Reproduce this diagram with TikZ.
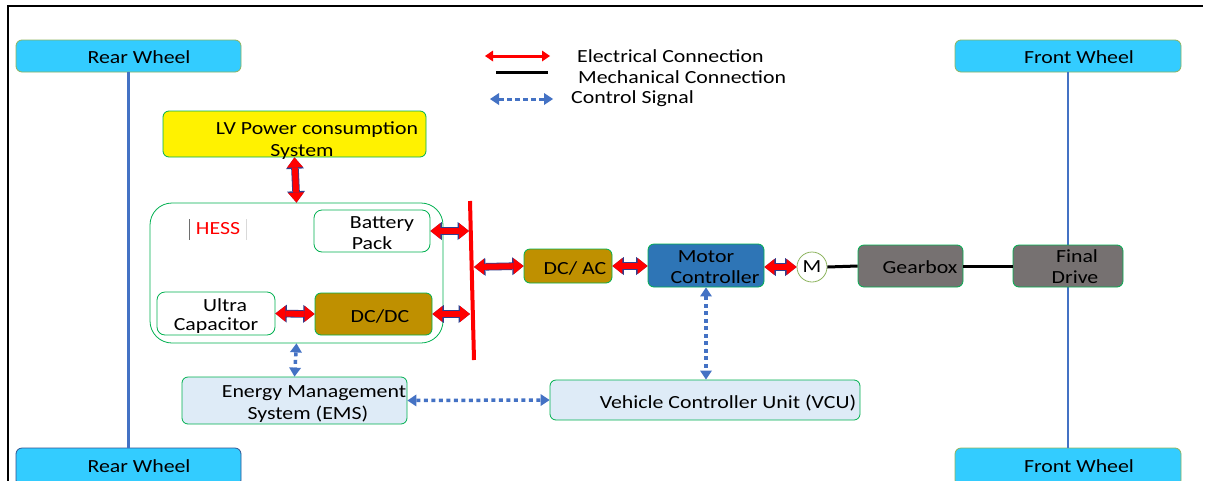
\documentclass[tikz,border=0pt]{standalone}
\usepackage{fontspec}
\setmainfont{Carlito}[FakeStretch=1.18]
\usetikzlibrary{arrows.meta}
\definecolor{cyanw}{RGB}{51,204,255}
\definecolor{wolive}{RGB}{141,180,95}
\definecolor{wnavy}{RGB}{47,82,143}
\definecolor{gborder}{RGB}{0,176,80}
\definecolor{goldbox}{RGB}{191,144,0}
\definecolor{mcblue}{RGB}{46,117,182}
\definecolor{graybox}{RGB}{118,113,113}
\definecolor{lightbox}{RGB}{222,235,247}
\definecolor{ctrlblue}{RGB}{68,114,196}
\definecolor{navyline}{RGB}{47,63,143}
\definecolor{hessgray}{RGB}{110,110,110}
\newcommand\tstr[1]{\rule{0pt}{#1}}
\newcommand\bstr{\rule[-6pt]{0pt}{6pt}}
\tikzset{
  elt/.tip={Triangle[length=10pt,width=16pt,line width=0pt]},
  eltout/.tip={Triangle[length=11.4pt,width=18pt,line width=0pt]},
  ctt/.tip={Triangle[length=9pt,width=12pt,line width=0pt]},
  tb/.style={execute at begin node={\rule{0pt}{#1}}, execute at end node={\rule[-6pt]{0pt}{6pt}}},
  tb/.default=22pt,
  box/.style={draw=gborder, line width=0.8pt, rounded corners=6pt, align=center, inner sep=0pt},
  txt/.style={align=center, inner sep=0pt},
  wheel/.style={box, fill=cyanw},
  axle/.style={draw=ctrlblue, line width=2.5pt},
  elec/.style={draw=red, line width=6pt, {elt}-{elt},
    preaction={draw=navyline, line width=7.6pt, {eltout}-{eltout}}},
  legel/.style={draw=red, line width=3pt, {Triangle[length=8pt,width=11pt,line width=0pt]}-{Triangle[length=8pt,width=11pt,line width=0pt]}},
  mech/.style={draw=black, line width=3pt},
  ctrl/.style={draw=ctrlblue, line width=3.5pt, dash pattern=on 4pt off 3.5pt, {ctt}-{ctt}},
  legtext/.style={anchor=west, inner sep=0pt}
}
\begin{document}
\begin{tikzpicture}[x=1pt,y=-1pt,font=\fontsize{18.5}{21}\selectfont]
\useasboundingbox (0,0) rectangle (1205,480);
\draw[line width=2pt] (8,481) -- (8,6) -- (1203,6);

% wheels
\node[wheel, draw=wolive, minimum width=225pt, minimum height=32pt, tb=21.6pt] (rwt) at (128.5,56) {\hspace*{21pt}Rear Wheel};
\node[wheel, draw=wnavy, minimum width=225pt, minimum height=38pt, tb=16pt] (rwb) at (128.5,467) {\hspace*{21pt}Rear Wheel};
\node[wheel, draw=wolive, minimum width=226pt, minimum height=32pt, tb=21.6pt] (fwt) at (1068,56) {\hspace*{22pt}Front Wheel};
\node[wheel, draw=wolive, minimum width=226pt, minimum height=38pt, tb=16pt] (fwb) at (1068,467) {\hspace*{22pt}Front Wheel};
\draw[axle] (rwt.south) -- (rwb.north);
\draw[axle] (fwt.south) -- (fwb.north);

% legend
\coordinate (le1) at (485,56); \coordinate (le2) at (550,56);
\coordinate (lm1) at (496,72); \coordinate (lm2) at (548,72);
\coordinate (lc1) at (490,99); \coordinate (lc2) at (553,99);
\draw[legel] (le1) -- (le2);
\draw[mech] (lm1) -- (lm2);
\draw[ctrl, line width=3pt, dash pattern=on 5pt off 3pt] (lc1) -- (lc2);
\node[legtext] (lt1) at (577,56) {Electrical Connection};
\node[legtext] (lt2) at (578,77) {Mechanical Connection};
\node[legtext] (lt3) at (571,99) {Control Signal};

% LV
\node[box, fill=yellow, minimum width=263pt, minimum height=46pt] (lv) at (294.5,134) {};
\node[txt, font=\fontsize{18.5}{22}\selectfont] (lvt) at (lv.center) {\tstr{29.4pt}\hspace*{45pt}LV Power consumption\\\hspace*{15pt}System\bstr};

% HESS
\node[box, rounded corners=22pt, fill=white, minimum width=293pt, minimum height=140pt] (hess) at (296.5,273) {};
\node[inner sep=0pt, text=red] (hesslbl) at (218,229) {HESS};
\draw[hessgray, line width=0.8pt] (189,219) -- (189,240);
\draw[black!15, line width=0.6pt] (246,219) -- (246,240);
\node[box, fill=white, rounded corners=8pt, minimum width=116pt, minimum height=42pt] (bat) at (372,231) {};
\node[txt, font=\fontsize{18.5}{20.7}\selectfont] (batt) at (bat.center) {\tstr{21.6pt}\hspace*{20pt}Battery\\Pack\bstr};
\node[box, fill=white, rounded corners=8pt, minimum width=118pt, minimum height=43pt] (uc) at (216,313.5) {};
\node[txt, font=\fontsize{18.5}{19.5}\selectfont] (uct) at (uc.center) {\tstr{21pt}\hspace*{18pt}Ultra\\Capacitor\bstr};
\node[box, fill=goldbox, minimum width=117pt, minimum height=42pt, tb] (dcdc) at (373.5,314) {\hspace*{13pt}DC/DC};

% bus
\coordinate (busT) at (470,201);
\coordinate (busB) at (474,360);
\draw[red, line width=4pt] (busT) -- (busB);
\coordinate (bbat) at (469,231);
\coordinate (bdc) at (470,314);
\coordinate (bac) at (474,267);

% drive line
\node[box, fill=goldbox, minimum width=88pt, minimum height=34pt, tb] (dcac) at (568,266) {\hspace*{14pt}DC/ AC};
\node[box, fill=mcblue, minimum width=116pt, minimum height=43pt] (mc) at (706,265.5) {};
\node[txt, font=\fontsize{18.5}{21.6}\selectfont] (mct) at (mc.center) {\tstr{21pt}Motor\\\hspace*{18pt}Controller\bstr};
\node[circle, draw=wolive, line width=0.8pt, fill=white, minimum size=30pt, inner sep=0pt] (m) at (812,267) {M};
\node[box, fill=graybox, minimum width=105pt, minimum height=42pt, tb=20pt] (gb) at (910.5,266) {\hspace*{19pt}Gearbox};
\node[box, fill=graybox, minimum width=110pt, minimum height=42pt] (fd) at (1068,266) {};
\node[txt, font=\fontsize{18.5}{21}\selectfont] (fdt) at (fd.center) {\tstr{20pt}\hspace*{18pt}Final\\\hspace*{14pt}Drive\bstr};

% control units
\node[box, fill=lightbox, minimum width=225pt, minimum height=47pt] (ems) at (294.5,400.5) {};
\node[txt, font=\fontsize{18.5}{21.7}\selectfont] (emst) at (ems.center) {\tstr{22.6pt}\hspace*{39pt}Energy Management\\\hspace*{27pt}System (EMS)\bstr};
\node[box, fill=lightbox, minimum width=310pt, minimum height=40pt, tb] (vcu) at (705,400) {\hspace*{46pt}Vehicle Controller Unit (VCU)};

% electrical connections
\draw[elec] (lv.south) -- (hess.north);
\draw[elec] (bat.east) -- (bbat);
\draw[elec] (dcdc.east) -- (bdc);
\draw[elec] (uc.east) -- (dcdc.west);
\draw[elec] (bac) -- (dcac.west);
\draw[elec] (dcac.east) -- (mc.west |- dcac.east);
\draw[elec] (mc.east |- m.west) -- (m.west);

% mechanical connections
\draw[mech] (m.east) -- (gb.west);
\draw[mech] (gb.east) -- (fd.west);

% control signals
\draw[ctrl] (hess.south) -- (ems.north);
\draw[ctrl] (ems.east) -- (vcu.west);
\draw[ctrl] (mc.south) -- (vcu.north -| mc.south);
\end{tikzpicture}
\end{document}
